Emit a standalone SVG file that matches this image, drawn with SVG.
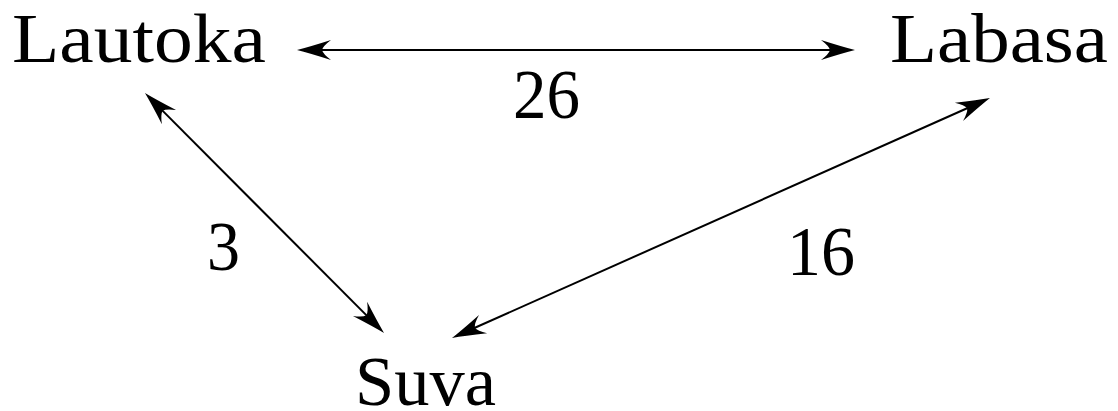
<svg xmlns="http://www.w3.org/2000/svg" width="1118" height="411" viewBox="0 0 1118 411">
<style>
text{font-family:"Liberation Serif","DejaVu Serif",serif;font-size:70px;fill:#000}
.c{stroke:#000;stroke-width:2;fill:none;marker-start:url(#ah);marker-end:url(#ah)}
</style>
<defs>
<marker id="ah" viewBox="-36 -12 40 24" markerWidth="40" markerHeight="24" refX="-22" refY="0" orient="auto-start-reverse" markerUnits="userSpaceOnUse">
<path d="M0,0 Q-12,-3 -34,-10 Q-26,-4 -25,0 Q-26,4 -34,10 Q-12,3 0,0 Z" fill="#000"/>
</marker>
</defs>
<rect width="1118" height="411" fill="#fff"/>
<g id="connectors">
<line class="c" x1="319" y1="50" x2="833" y2="50"/>
<line class="c" x1="160.5" y1="108.6" x2="368.5" y2="317.4"/>
<line class="c" x1="472.1" y1="329" x2="969.9" y2="107"/>
<text x="513" y="118" textLength="67" lengthAdjust="spacingAndGlyphs">26</text>
<text x="207" y="270" textLength="33" lengthAdjust="spacingAndGlyphs">3</text>
<text x="787" y="275" textLength="68" lengthAdjust="spacingAndGlyphs">16</text>
</g>
<g id="lautoka"><text x="12" y="62" textLength="254" lengthAdjust="spacingAndGlyphs">Lautoka</text></g>
<g id="labasa"><text x="890" y="62" textLength="218" lengthAdjust="spacingAndGlyphs">Labasa</text></g>
<g id="suva"><text x="355" y="405" textLength="141" lengthAdjust="spacingAndGlyphs">Suva</text></g>
</svg>
